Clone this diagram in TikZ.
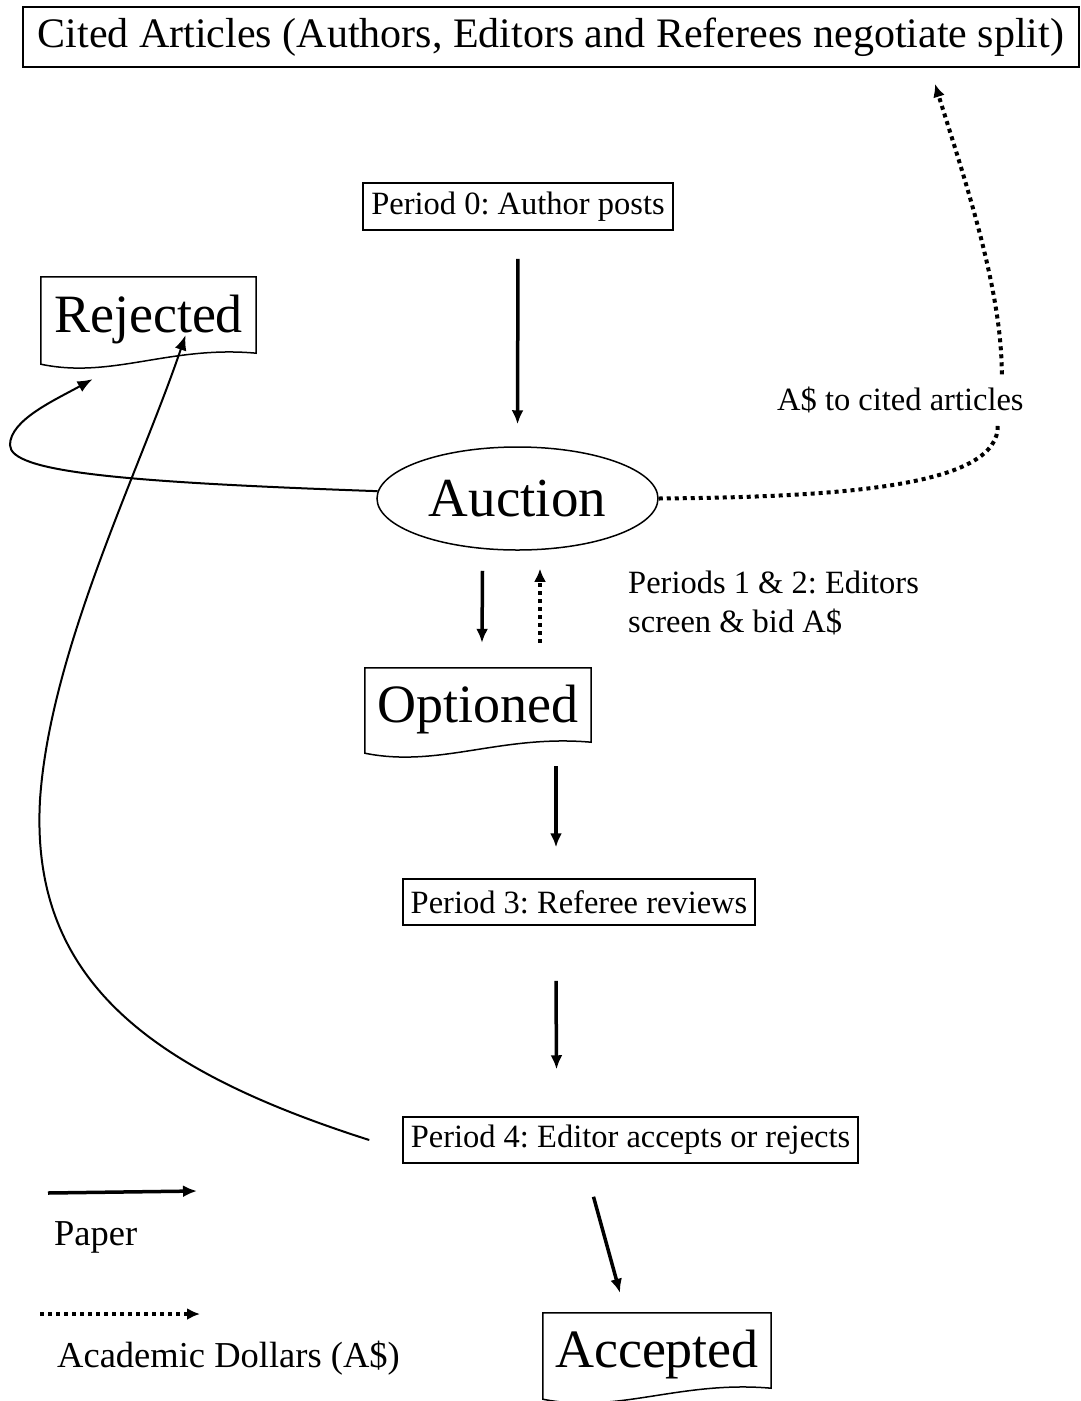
\documentclass[tikz,border=0pt]{standalone}
\usepackage{fontspec}
\setmainfont{Liberation Serif}
\usetikzlibrary{shapes.geometric, arrows.meta, calc}
\frenchspacing

% outline of a paper: box with a wavy lower edge
\newcommand{\paperedge}[1]{%
  \draw[line width=1.5pt] ($(#1.south west)+(0,11)$) -- (#1.north west) -- (#1.north east) -- (#1.south east)
    .. controls ($(#1.south west)!0.6!(#1.south east)+(0,-8)$) and ($(#1.south west)!0.33!(#1.south east)+(0,26)$) .. ($(#1.south west)+(0,11)$) -- cycle;}

\begin{document}
\begin{tikzpicture}[x=1pt, y=-1pt,
    period/.style={draw, line width=1.5pt, inner sep=0pt, font=\fontsize{32.5}{38}\selectfont},
    doc/.style={inner sep=0pt, text height=46pt, text depth=12pt, font=\fontsize{54}{60}\selectfont},
    lbl/.style={inner sep=0pt, font=\fontsize{32.5}{39}\selectfont},
    keytext/.style={inner sep=0pt, font=\fontsize{36.5}{42}\selectfont},
    paper/.style={-{Latex[length=14pt,width=12pt]}, line width=3.5pt},
    refuse/.style={-{Latex[length=15pt,width=12pt]}, line width=2pt},
    dotline/.style={line width=4pt, dash pattern=on 4pt off 4pt},
    money/.style={dotline, -{Latex[length=13pt,width=12pt]}}]
    \useasboundingbox (0,0) rectangle (1081,1401);

    % Nodes
    \node[draw, line width=2pt, minimum width=1056pt, minimum height=60pt, inner sep=0pt,
          font=\fontsize{42}{48}\selectfont] (cited) at (551,37) {Cited Articles (Authors, Editors and Referees negotiate split)};
    \node[period, minimum width=310pt, minimum height=47pt] (author_posts) at (518,206.5) {Period 0: Author posts};
    \node[ellipse, draw, line width=1.5pt, minimum width=281pt, minimum height=103pt, inner sep=0pt,
          font=\fontsize{55}{60}\selectfont] (auction) at (517.5,498.5) {Auction};
    \node[doc, minimum width=215pt, minimum height=76pt] (rejected) at (148.5,315) {Rejected};
    \node[doc, minimum width=226pt, minimum height=74pt] (optioned) at (478,705) {Optioned};
    \node[doc, minimum width=228pt, minimum height=75pt] (accepted) at (657,1350.5) {Accepted};
    \node[period, minimum width=352pt, minimum height=46pt] (referee) at (579,902) {Period 3: Referee reviews};
    \node[period, minimum width=455pt, minimum height=46pt] (decision) at (630.5,1140) {Period 4: Editor accepts or rejects};
    \node[lbl, align=left, anchor=north west] (screen_bid) at (628,571) {Periods 1 \& 2: Editors\\screen \& bid A\$};
    \node[lbl, inner sep=4pt, anchor=base west] (cite_lbl) at (773,410) {A\$ to cited articles};

    \paperedge{rejected}
    \paperedge{optioned}
    \paperedge{accepted}

    % Arrows
    \draw[paper, shorten <=28pt, shorten >=22pt] (author_posts.south) -- (auction.north);
    \draw[paper] ([xshift=-35pt,yshift=-20pt]auction.south) -- ([xshift=4pt,yshift=25pt]optioned.north);
    \draw[money] ([xshift=62pt,yshift=25pt]optioned.north) -- ([xshift=22.5pt,yshift=-18pt]auction.south);
    \draw[paper] ([xshift=78pt,yshift=-24pt]optioned.south) -- ([xshift=-23pt,yshift=31pt]referee.north);
    \draw[paper] ([xshift=-23pt,yshift=-55pt]referee.south) -- ([xshift=-74pt,yshift=47pt]decision.north);
    \draw[paper] ([xshift=-37pt,yshift=-33pt]decision.south) -- ([xshift=-37pt,yshift=20pt]accepted.north);
    \draw[refuse] (auction.177) .. controls (120,482) and (10,472) .. (10,445)
        .. controls (10,420) and (55,400) .. ([xshift=-56pt,yshift=-26pt]rejected.south);
    \draw[refuse] ([xshift=-33pt]decision.west) .. controls (150,1070) and (30,980) .. (40,800)
        .. controls (50,650) and (140,470) .. ([xshift=37pt,yshift=18pt]rejected.south);
    \draw[dotline] (auction.east) .. controls (850,497) and (1000,485) .. ([xshift=-30pt,yshift=-8pt]cite_lbl.south east);
    \draw[money] ([xshift=-26pt,yshift=8pt]cite_lbl.north east) .. controls (1002,290) and (965,180) .. ([xshift=384pt,yshift=-16pt]cited.south);

    % Legend
    \coordinate (paper_from) at (48,1193);
    \coordinate (paper_to) at (197,1191);
    \draw[paper] (paper_from) -- (paper_to);
    \node[keytext, anchor=base west] (paper_key) at (54,1245) {Paper};
    \coordinate (money_from) at (40,1314);
    \coordinate (money_to) at (200,1314);
    \draw[money] (money_from) -- (money_to);
    \node[keytext, anchor=base west] (money_key) at (57,1367) {Academic Dollars (A\$)};
\end{tikzpicture}
\end{document}
